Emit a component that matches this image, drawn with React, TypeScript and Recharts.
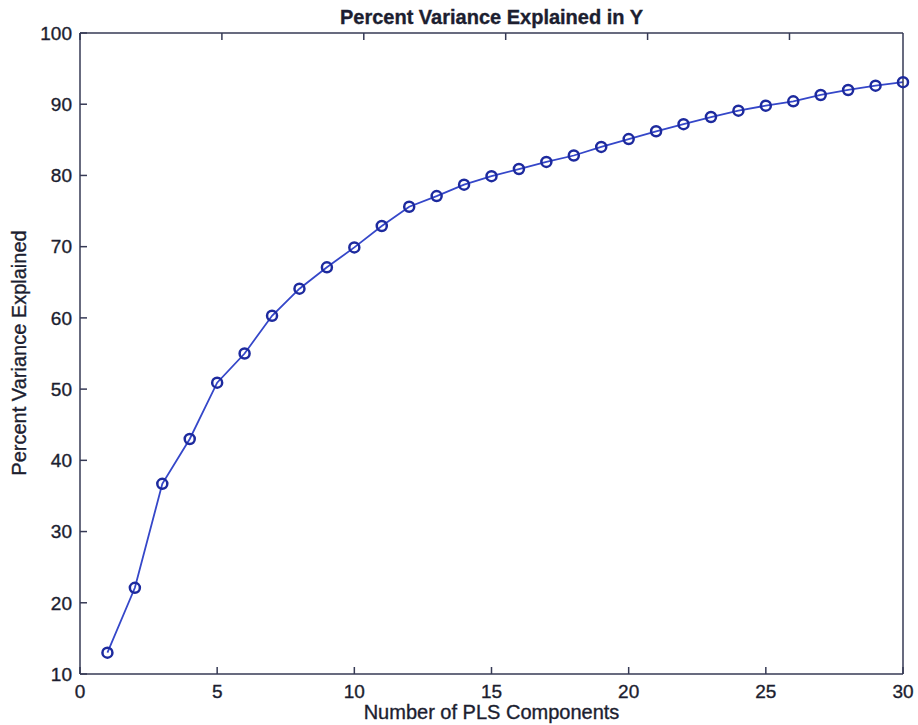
import { LineChart, Line, XAxis, YAxis } from 'recharts'

// ---------------------------------------------------------------------------
// Data
// ---------------------------------------------------------------------------

const components = [
  1, 2, 3, 4, 5, 6, 7, 8, 9, 10, 11, 12, 13, 14, 15,
  16, 17, 18, 19, 20, 21, 22, 23, 24, 25, 26, 27, 28, 29, 30,
]

const varianceExplained = [
  13.0, 22.1, 36.7, 43.0, 50.9, 55.0, 60.3, 64.1, 67.1, 69.9, 72.9, 75.6, 77.1, 78.7, 79.9,
  80.9, 81.9, 82.8, 84.0, 85.1, 86.2, 87.2, 88.2, 89.1, 89.8, 90.4, 91.3, 92.0, 92.6, 93.1,
]

const xTicks = [0, 5, 10, 15, 20, 25, 30]
const yTicks = [10, 20, 30, 40, 50, 60, 70, 80, 90, 100]

const data = components.map((x, i) => ({ x, y: varianceExplained[i] }))

// ---------------------------------------------------------------------------
// Styles
// ---------------------------------------------------------------------------

const FONT = '"Liberation Sans", Arial, Helvetica, sans-serif'
const TEXT = '#1c1e30'
const AXIS = '#363a55'
const LINE = '#3547c9'
const MARKER = '#1d2a9e'

// slight stroke so the labels get the heavier look of the scanned original
const tickStyle = { fontSize: 19, fill: TEXT, fontFamily: FONT, stroke: TEXT, strokeWidth: 0.35 }
const noLabel = () => <g />

export default function App() {
  return (
    <div style={{ position: 'relative', width: 918, height: 725, overflow: 'hidden' }}>
      <style>{'body { margin: 0; }'}</style>
      <div
        style={{
          position: 'absolute',
          left: 8,
          top: 8,
          width: 910,
          height: 717,
          fontFamily: FONT,
          color: TEXT,
          WebkitTextStroke: `0.35px ${TEXT}`,
        }}
      >
        {/* Title */}
        <div
          style={{
            position: 'absolute',
            left: 72,
            width: 823,
            top: -1,
            lineHeight: '20px',
            fontSize: 20,
            fontWeight: 'bold',
            textAlign: 'center',
          }}
        >
          Percent Variance Explained in Y
        </div>

        <LineChart
          width={910}
          height={717}
          data={data}
          margin={{ top: 24, right: 14, bottom: 11, left: 12 }}
        >
          {/* bottom + left axes with labels, ticks pointing inward */}
          <XAxis
            xAxisId="b"
            dataKey="x"
            type="number"
            domain={[0, 30]}
            ticks={xTicks}
            height={40}
            tickSize={-7}
            tickMargin={18}
            tick={tickStyle}
            stroke={AXIS}
            strokeWidth={1.5}
          />
          <YAxis
            yAxisId="l"
            type="number"
            domain={[10, 100]}
            ticks={yTicks}
            width={60}
            tickSize={-7}
            tickMargin={15}
            tick={tickStyle}
            stroke={AXIS}
            strokeWidth={1.5}
          />
          {/* top + right axes: box lines and inward ticks only */}
          <XAxis
            xAxisId="t"
            orientation="top"
            type="number"
            domain={[0, 30]}
            ticks={xTicks}
            height={1}
            tickSize={-7}
            tick={noLabel}
            stroke={AXIS}
            strokeWidth={1.5}
          />
          <YAxis
            yAxisId="r"
            orientation="right"
            type="number"
            domain={[10, 100]}
            ticks={yTicks}
            width={1}
            tickSize={-7}
            tick={noLabel}
            stroke={AXIS}
            strokeWidth={1.5}
          />
          <Line
            xAxisId="b"
            yAxisId="l"
            dataKey="y"
            type="linear"
            stroke={LINE}
            strokeWidth={1.8}
            dot={{ r: 5, stroke: MARKER, strokeWidth: 2.5, fill: 'none' }}
            isAnimationActive={false}
          />
        </LineChart>

        {/* X axis label */}
        <div
          style={{
            position: 'absolute',
            left: 72,
            width: 823,
            top: 694,
            lineHeight: '20px',
            fontSize: 20,
            textAlign: 'center',
          }}
        >
          Number of PLS Components
        </div>

        {/* Y axis label */}
        <div
          style={{
            position: 'absolute',
            left: 11 - 200,
            top: 345 - 10,
            width: 400,
            lineHeight: '20px',
            fontSize: 20,
            textAlign: 'center',
            transform: 'rotate(-90deg)',
            whiteSpace: 'nowrap',
          }}
        >
          Percent Variance Explained
        </div>
      </div>
    </div>
  )
}
